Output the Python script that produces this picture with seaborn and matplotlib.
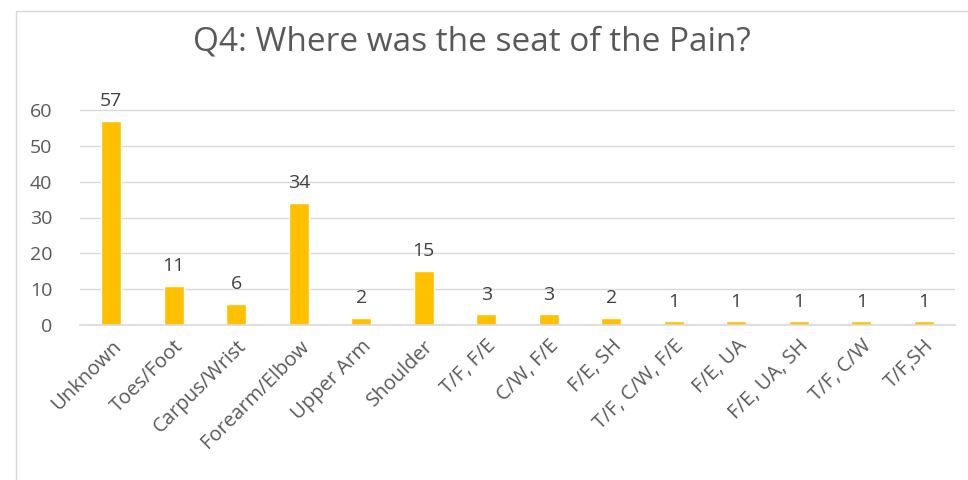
import matplotlib
matplotlib.use("Agg")
import matplotlib.pyplot as plt
import seaborn as sns
import pandas as pd
from matplotlib.patches import Rectangle

# dados
locais = ["Unknown", "Toes/Foot", "Carpus/Wrist", "Forearm/Elbow", "Upper Arm",
          "Shoulder", "T/F, F/E", "C/W, F/E", "F/E, SH", "T/F, C/W, F/E",
          "F/E, UA", "F/E, UA, SH", "T/F, C/W", "T/F,SH"]
contagens = [57, 11, 6, 34, 2, 15, 3, 3, 2, 1, 1, 1, 1, 1]
y_ticks = [0, 10, 20, 30, 40, 50, 60]

df = pd.DataFrame({"local": locais, "n": contagens})

sns.set_style("white")
plt.rcParams['font.family'] = ['Open Sans', 'DejaVu Sans']

cinza = "#595959"
fig = plt.figure(figsize=(9.68, 4.8), dpi=100)
ax = fig.add_axes([80 / 968, 1 - 325 / 480, 875 / 968, 215 / 480 * 62 / 60])

sns.barplot(data=df, x="local", y="n", color="#FFC000", width=0.32,
            saturation=1, ax=ax)

# rótulos de valor acima das barras
for i, v in enumerate(contagens):
    ax.text(i, v + 3.0, str(v), ha="center", va="bottom", fontsize=14, color="#404040")

ax.set_ylim(0, 62)
ax.set_yticks(y_ticks)
ax.set_xlim(-0.5, len(locais) - 0.5)
ax.grid(axis="y", color="#D9D9D9", linewidth=1)
ax.set_axisbelow(True)
for s in ["left", "right", "top"]:
    ax.spines[s].set_visible(False)
ax.spines["bottom"].set_color("#D9D9D9")
ax.spines["bottom"].set_linewidth(1.2)
ax.tick_params(axis="x", length=0, labelsize=14.5, labelcolor=cinza, pad=8)
ax.tick_params(axis="y", length=0, labelsize=14, labelcolor=cinza, pad=20)
ax.set_xlabel("")
ax.set_ylabel("")
plt.setp(ax.get_xticklabels(), rotation=45, ha="right", rotation_mode="anchor")

fig.text(472 / 968, 1 - 42 / 480, "Q4: Where was the seat of the Pain?",
         ha="center", va="center", fontsize=24, color=cinza)

# moldura da área do gráfico
fig.patches.append(Rectangle((16 / 968, -0.05), 1.0, 1 - 11 / 480 + 0.05,
                             transform=fig.transFigure, fill=False,
                             edgecolor="#D9D9D9", linewidth=1))

fig.savefig("out.png", dpi=100)
